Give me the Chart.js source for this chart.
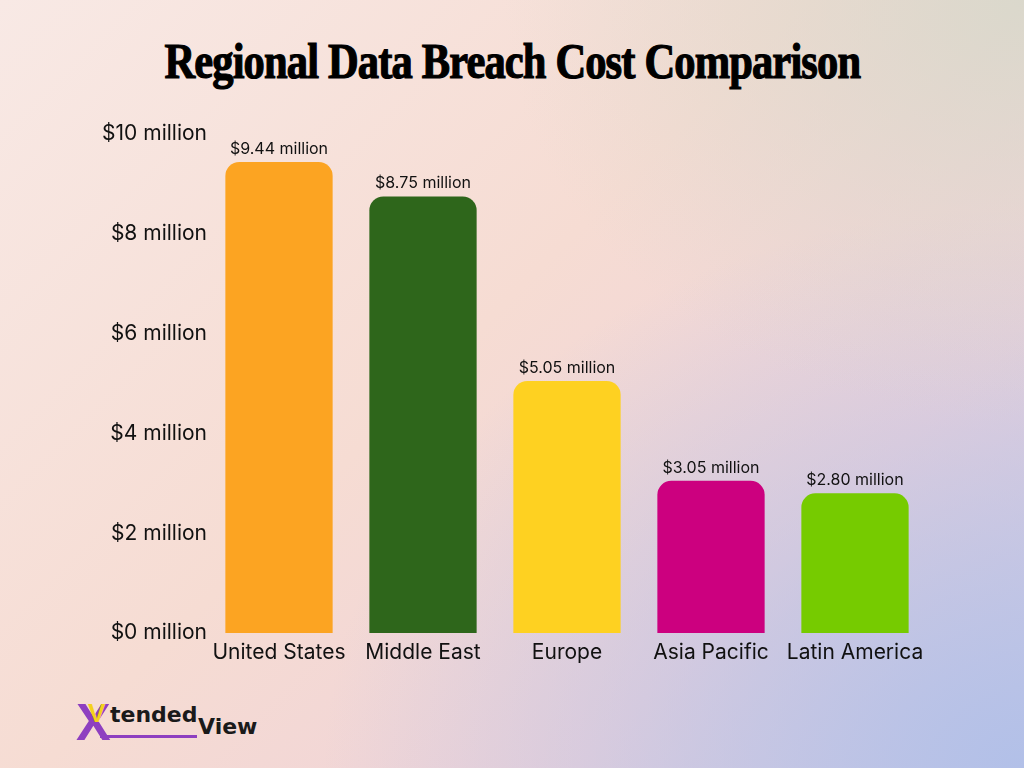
<!DOCTYPE html>
<html lang="en">
<head>
    <meta charset="UTF-8">
    <title>Regional Data Breach Cost Comparison</title>
    <script src="https://cdn.jsdelivr.net/npm/chart.js"></script>
    <style>
        html, body { margin: 0; padding: 0; }
        body {
            width: 1024px; height: 768px; position: relative; overflow: hidden;
            background:
                radial-gradient(ellipse 520px 420px at 1024px 0px, rgba(214,216,202,0.85), rgba(214,216,202,0) 100%),
                radial-gradient(ellipse 700px 560px at 1024px 768px, rgba(178,192,232,1), rgba(178,192,232,0) 100%),
                linear-gradient(135deg, #f8e9e5 0%, #f6dcd3 45%, #efd2d8 75%, #d6cde2 100%);
        }
        #title {
            position: absolute; top: 32px; left: 0; width: 1024px; text-align: center;
            font-family: "Liberation Serif", "DejaVu Serif", serif; font-weight: bold;
            font-size: 50px; color: #000; letter-spacing: -1px;
            -webkit-text-stroke: 1.2px #000;
        }
        #title span { display: inline-block; transform: scaleX(0.85); }
        #logo { position: absolute; left: 0; top: 0; font-weight: bold; }
        #logo span { position: absolute; white-space: nowrap; }
        #logo .x { left: 76px; top: 692px; color: #8e3fc0; font-size: 52px; font-family: "Liberation Sans", sans-serif; }
        #logo .vy { left: 88px; top: 698px; color: #f4d11c; font-size: 26px; font-family: "Liberation Sans", sans-serif; }
        #logo .t { left: 110px; top: 702px; font-size: 22px; color: #1a1a1a; font-family: "DejaVu Sans", sans-serif; }
        #logo .line { left: 100px; top: 735px; width: 97px; height: 3px; background: #8e3fc0; }
        #logo .v { left: 198px; top: 714px; font-size: 22px; color: #1a1a1a; font-family: "DejaVu Sans", sans-serif; }
        canvas { position: absolute; left: 0; top: 0; }
    </style>
</head>
<body>
    <div id="title"><span>Regional Data Breach Cost Comparison</span></div>
    <div id="logo">
        <span class="x">X</span><span class="vy">V</span>
        <span class="t">tended</span><span class="line"></span><span class="v">View</span>
    </div>
    <canvas id="costChart" width="1024" height="768"></canvas>

    <script>
        var regions = ['United States', 'Middle East', 'Europe', 'Asia Pacific', 'Latin America'];
        var costs = [9.44, 8.75, 5.05, 3.05, 2.80]; // $ million
        var barColors = ['#fca422', '#2e661b', '#fed121', '#cc007f', '#76cb00'];

        // write the value above each bar
        var valueLabels = {
            id: 'valueLabels',
            afterDatasetsDraw: function(chart) {
                var ctx = chart.ctx;
                var meta = chart.getDatasetMeta(0);
                ctx.save();
                ctx.font = '16px Inter';
                ctx.fillStyle = '#111';
                ctx.textAlign = 'center';
                ctx.textBaseline = 'alphabetic';
                meta.data.forEach(function(bar, i) {
                    ctx.fillText('$' + costs[i].toFixed(2) + ' million', bar.x, bar.y - 8);
                });
                ctx.restore();
            }
        };

        var ctx = document.getElementById('costChart').getContext('2d');
        var chart = new Chart(ctx, {
            type: 'bar',
            data: {
                labels: regions,
                datasets: [{
                    data: costs,
                    backgroundColor: barColors,
                    borderRadius: { topLeft: 14, topRight: 14 },
                    borderSkipped: 'bottom',
                    barPercentage: 0.745,
                    categoryPercentage: 1
                }]
            },
            options: {
                responsive: false,
                animation: false,
                layout: { padding: { top: 134, right: 97, left: 0, bottom: 0 } },
                plugins: { legend: { display: false }, tooltip: { enabled: false } },
                scales: {
                    x: {
                        grid: { display: false, drawTicks: false },
                        border: { display: false },
                        ticks: { color: '#111', font: { family: 'Inter', size: 21 }, padding: 7, maxRotation: 0 },
                        afterFit: function(scale) { scale.height = 135; }
                    },
                    y: {
                        min: 0, max: 10,
                        grid: { display: false, drawTicks: false },
                        border: { display: false },
                        ticks: {
                            stepSize: 2, color: '#111', font: { family: 'Inter', size: 21 }, padding: 0,
                            callback: function(v) { return '$' + v + ' million'; }
                        },
                        afterFit: function(scale) { scale.width = 207; }
                    }
                }
            },
            plugins: [valueLabels]
        });
    </script>
</body>
</html>
